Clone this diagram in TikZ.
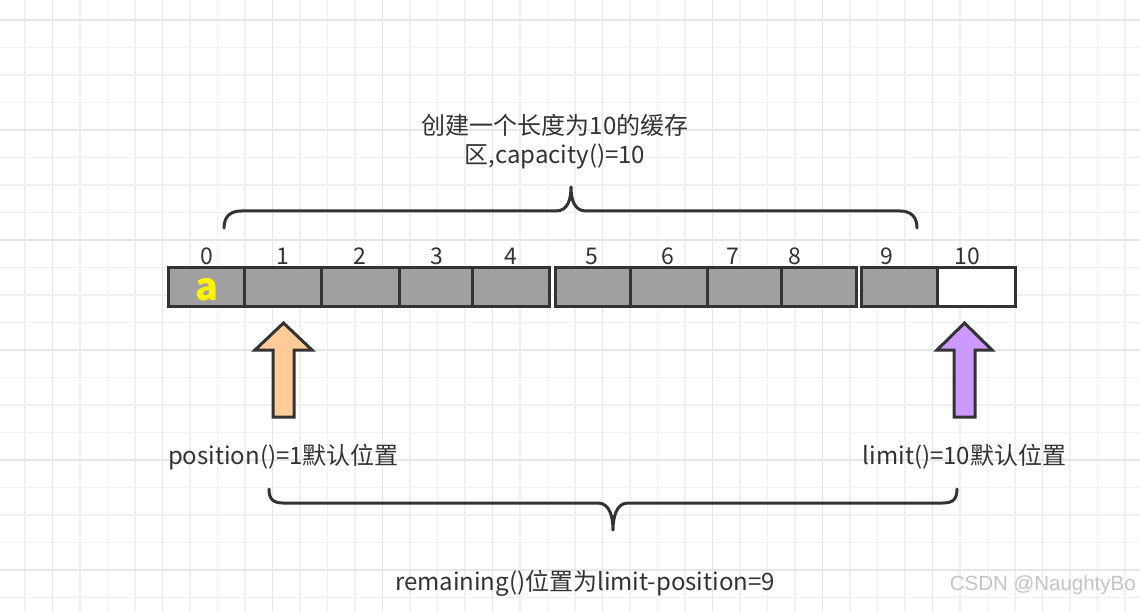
\documentclass[tikz,border=0pt]{standalone}
\usepackage{fontspec}
\newfontfamily\cjk{Noto Sans CJK SC}
\newfontfamily\wmfont{Liberation Sans}
\usetikzlibrary{calc}
\definecolor{txtgray}{HTML}{333333}
\definecolor{edgegray}{HTML}{333333}
\definecolor{cellgray}{HTML}{A0A0A0}
\definecolor{peach}{HTML}{FFCC99}
\definecolor{lilac}{HTML}{CC99FF}
\definecolor{gridminor}{HTML}{F1F1F1}
\definecolor{gridmajor}{HTML}{E6E6E6}
\definecolor{wmgray}{HTML}{C4C4C4}

\tikzset{
  cell/.style={draw=edgegray,line width=3pt,fill=cellgray,minimum height=38pt,inner sep=0pt},
  idx/.style={text=txtgray,font=\cjk\fontsize{23}{26}\selectfont,inner sep=0pt},
  brace/.style={draw=edgegray,line width=3pt,line cap=round,line join=round},
  ptr/.style={draw=edgegray,line width=3pt,line join=miter},
  note/.style={text=txtgray,font=\cjk\fontsize{24}{29}\selectfont,align=center,inner sep=0pt},
}

\begin{document}
\begin{tikzpicture}[x=1pt,y=-1pt,line cap=round]
\useasboundingbox (0,0) rectangle (1140,612);
\fill[white] (0,0) rectangle (1140,612);
\begin{scope}
\clip (0,0) rectangle (1140,612);
\draw[gridminor,line width=1.6pt,shift={(25,20)}] (-30,-30) grid[xstep=27.5pt,ystep=27.5pt] (1120,600);
\draw[gridmajor,line width=1.6pt,shift={(52.5,20)}] (-60,-30) grid[xstep=110pt,ystep=110pt] (1100,600);
\end{scope}

% buffer cells
\node[cell,minimum width=76pt] (c0) at (206,287) {};
\node[cell,minimum width=77pt] (c1) at (282.5,287) {};
\node[cell,minimum width=78pt] (c2) at (360,287) {};
\node[cell,minimum width=74pt] (c3) at (436,287) {};
\node[cell,minimum width=77pt] (c4) at (511,287) {};
\node[cell,minimum width=75pt] (c5) at (592.5,287) {};
\node[cell,minimum width=77pt] (c6) at (668.5,287) {};
\node[cell,minimum width=74pt] (c7) at (744,287) {};
\node[cell,minimum width=75pt] (c8) at (818.5,287) {};
\node[cell,minimum width=76pt] (c9) at (899,287) {};
\node[cell,minimum width=78pt,fill=white] (c10) at (976,287) {};
\node[text=yellow,font=\cjk\bfseries\fontsize{38}{38}\selectfont,inner sep=0pt,text height=20pt,text depth=0pt,anchor=base] (val) at (207,300) {a};

\node[idx] (i0) at (207,256) {0};
\node[idx] (i1) at (283,256) {1};
\node[idx] (i2) at (360,256) {2};
\node[idx] (i3) at (437,256) {3};
\node[idx] (i4) at (511,256) {4};
\node[idx] (i5) at (592,256) {5};
\node[idx] (i6) at (668,256) {6};
\node[idx] (i7) at (733,256) {7};
\node[idx] (i8) at (795,256) {8};
\node[idx] (i9) at (887,256) {9};
\node[idx] (i10) at (967,256) {10};

% capacity brace
\coordinate (capL) at (224,228);
\coordinate (capR) at (917,228);
\coordinate (capTip) at (571,187);
\draw[brace] (capL) .. controls +(0,-12) and +(-10,0) .. ++(17,-17) -- ($(capTip)+(-15,24)$) .. controls +(12,0) and +(0,12) .. (capTip) .. controls +(0,12) and +(-12,0) .. ++(15,24) -- ($(capR)+(-17,-17)$) .. controls +(10,0) and +(0,-12) .. (capR);
\node[note] (capnote) at (555,142) {创建一个长度为10的缓存\\区,capacity()=10};

% pointers
\draw[ptr,fill=peach] (283.5,323) -- (312,350) -- (294,350) -- (294,417) -- (273,417) -- (273,350) -- (255,350) -- cycle;
\draw[ptr,fill=lilac] (964.5,323) -- (992,350) -- (975,350) -- (975,417) -- (954,417) -- (954,350) -- (937,350) -- cycle;
\node[note] (posnote) at (283.5,457) {position()=1默认位置};
\node[note] (limnote) at (964.5,457) {limit()=10默认位置};

% remaining brace
\coordinate (remL) at (269,489);
\coordinate (remR) at (957,489);
\coordinate (remTip) at (613,530);
\draw[brace] (remL) .. controls +(0,10) and +(-10,0) .. ++(14,14) -- ($(remTip)+(-15,-27)$) .. controls +(12,0) and +(0,-12) .. (remTip) .. controls +(0,-12) and +(-12,0) .. ++(15,-27) -- ($(remR)+(-14,14)$) .. controls +(10,0) and +(0,10) .. (remR);
\node[note] (remnote) at (585,583) {remaining()位置为limit-position=9};

\node[text=wmgray,font=\wmfont\fontsize{20.5}{20.5}\selectfont,anchor=east,inner sep=0pt] (mark) at (1136,585) {CSDN @NaughtyBo};
\end{tikzpicture}
\end{document}
